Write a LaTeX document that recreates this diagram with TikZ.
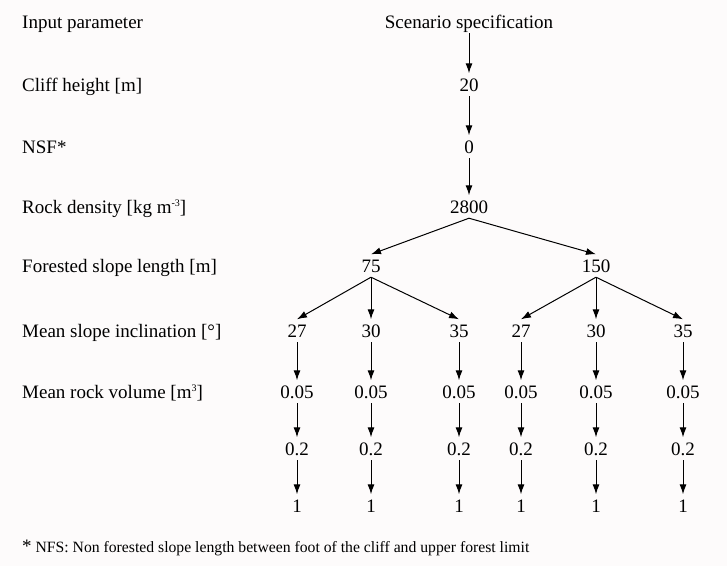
\documentclass[tikz,border=0pt]{standalone}
\usepackage{fontspec}
\setmainfont{Liberation Serif}
\usetikzlibrary{arrows.meta}
\definecolor{paper}{RGB}{253,251,251}
\tikzset{
 lbl/.style={anchor=base west,inner sep=0pt},
 val/.style={anchor=base,text height=12.5pt,text depth=0pt,inner xsep=1pt,inner ysep=5pt},
 arr/.style={-{Latex[length=10pt,width=7pt]},line width=1pt}
}
\newcommand{\supsm}[1]{\raisebox{7pt}{\fontsize{10}{10}\selectfont #1}}
\begin{document}
\begin{tikzpicture}[x=1pt,y=-1pt,every node/.style={font=\fontsize{19}{22}\selectfont}]
 \fill[paper](0,0) rectangle (727,566);
 \useasboundingbox (0,0) rectangle (727,566);
 % left column
 \node[lbl] (lin) at (22,28) {Input parameter};
 \node[lbl] (lch) at (22,91) {Cliff height [m]};
 \node[lbl] (lnsf) at (22,153) {NSF*};
 \node[lbl] (lrho) at (22,213) {Rock density [kg m\supsm{-3}]};
 \node[lbl] (lfl) at (22,272) {Forested slope length [m]};
 \node[lbl] (lmi) at (22,337) {Mean slope inclination [°]};
 \node[lbl] (lmv) at (22,398) {Mean rock volume [m\supsm{3}]};
 % trunk
 \node[val] (spec) at (469,28) {Scenario specification};
 \node[val] (h20) at (469,91) {20};
 \node[val] (nsf0) at (469,153) {0};
 \node[val] (rho) at (469,213) {2800};
 \draw[arr] (spec) -- (h20);
 \draw[arr] (h20) -- (nsf0);
 \draw[arr] (nsf0) -- (rho);
 % slope length
 \node[val] (L75) at (371,272) {75};
 \node[val] (L150) at (596,272) {150};
 \draw[arr] (rho.south) -- (L75.north);
 \draw[arr] (rho.south) -- (L150.north);
 % inclination
 \node[val] (iA) at (297,337) {27};
 \node[val] (iB) at (371,337) {30};
 \node[val] (iC) at (459,337) {35};
 \node[val] (iD) at (521,337) {27};
 \node[val] (iE) at (596,337) {30};
 \node[val] (iF) at (683,337) {35};
 \draw[arr] (L75.south) -- (iA.north);
 \draw[arr] (L75.south) -- (iB.north);
 \draw[arr] (L75.south) -- (iC.north);
 \draw[arr] (L150.south) -- (iD.north);
 \draw[arr] (L150.south) -- (iE.north);
 \draw[arr] (L150.south) -- (iF.north);
 % rock volume
 \node[val] (vA) at (297,398) {0.05};
 \node[val] (vB) at (371,398) {0.05};
 \node[val] (vC) at (459,398) {0.05};
 \node[val] (vD) at (521,398) {0.05};
 \node[val] (vE) at (596,398) {0.05};
 \node[val] (vF) at (683,398) {0.05};
 \node[val] (wA) at (297,455) {0.2};
 \node[val] (wB) at (371,455) {0.2};
 \node[val] (wC) at (459,455) {0.2};
 \node[val] (wD) at (521,455) {0.2};
 \node[val] (wE) at (596,455) {0.2};
 \node[val] (wF) at (683,455) {0.2};
 \node[val] (uA) at (297,512) {1};
 \node[val] (uB) at (371,512) {1};
 \node[val] (uC) at (459,512) {1};
 \node[val] (uD) at (521,512) {1};
 \node[val] (uE) at (596,512) {1};
 \node[val] (uF) at (683,512) {1};
 \draw[arr] (iA) -- (vA);
 \draw[arr] (iB) -- (vB);
 \draw[arr] (iC) -- (vC);
 \draw[arr] (iD) -- (vD);
 \draw[arr] (iE) -- (vE);
 \draw[arr] (iF) -- (vF);
 \draw[arr] (vA) -- (wA);
 \draw[arr] (vB) -- (wB);
 \draw[arr] (vC) -- (wC);
 \draw[arr] (vD) -- (wD);
 \draw[arr] (vE) -- (wE);
 \draw[arr] (vF) -- (wF);
 \draw[arr] (wA) -- (uA);
 \draw[arr] (wB) -- (uB);
 \draw[arr] (wC) -- (uC);
 \draw[arr] (wD) -- (uD);
 \draw[arr] (wE) -- (uE);
 \draw[arr] (wF) -- (uF);
 % footnote
 \node[lbl] (note) at (22,552) {*\fontsize{15.7}{18}\selectfont{} NFS: Non forested slope length between foot of the cliff and upper forest limit};
\end{tikzpicture}
\end{document}
